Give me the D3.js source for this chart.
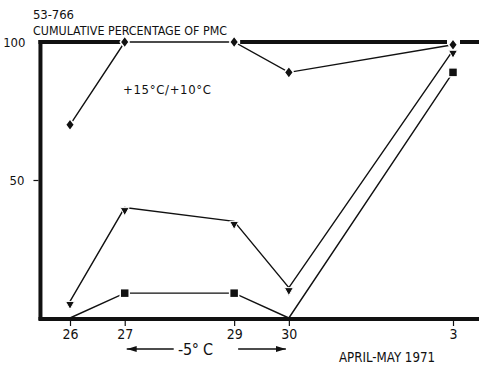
<html>
<head>
<script src="https://d3js.org/d3.v7.min.js"></script>
<style>
body { margin: 0; background: #fff; }
svg text { font-family: "Liberation Sans Narrow", "DejaVu Sans Condensed", sans-serif; font-size: 12px; fill: #111; }
.axis .domain { display: none; }
.axis line { stroke: #111; stroke-width: 1.2; }
</style>
</head>
<body>
<svg id="chart"></svg>
<script>
// day index from 26 April (0) to 3 May (7)
var days = [0, 1, 3, 4, 7];
var dayLabels = ["26", "27", "29", "30", "3"];
var warm = [70, 100, 100, 89, 99];     // diamonds, +15C/+10C
var mid = [6, 40, 35, 11, 97];         // triangles
var cold = [0, 9, 9, 0, 89];           // squares
var yTicks = [50, 100];

var W = 479, H = 369;
var svg = d3.select("#chart").attr("width", W).attr("height", H);

var x = d3.scaleLinear().domain([0, 7]).range([70, 453]);
var y = d3.scaleLinear().domain([0, 100]).range([318, 42]);
var x0 = x(-0.54);

// frame: thick left, bottom and top (100) lines
svg.append("line").attr("x1", x0).attr("x2", x0).attr("y1", y(100) - 2).attr("y2", y(0) + 2)
	.attr("stroke", "#111").attr("stroke-width", 4);
svg.append("line").attr("x1", x0 - 2).attr("x2", W).attr("y1", y(0) + 1).attr("y2", y(0) + 1)
	.attr("stroke", "#111").attr("stroke-width", 4);
[[x0 - 2, x(1) - 4], [x(3) + 6, x(7) - 6], [x(7) + 7, W]].forEach(function(s) {
	svg.append("line").attr("x1", s[0]).attr("x2", s[1]).attr("y1", y(100)).attr("y2", y(100))
		.attr("stroke", "#111").attr("stroke-width", 4);
});

// axes
var xAxis = svg.append("g").attr("class", "axis")
	.attr("transform", "translate(0," + (y(0) + 3) + ")")
	.call(d3.axisBottom(x).tickValues(days).tickSize(5).tickPadding(3)
		.tickFormat(function(d, i) { return dayLabels[i]; }));
xAxis.selectAll("text").style("font-size", "14px");

var yAxis = svg.append("g").attr("class", "axis")
	.attr("transform", "translate(" + (x0 - 2) + ",0)")
	.call(d3.axisLeft(y).tickValues(yTicks).tickSize(5).tickPadding(9));
yAxis.selectAll("text").style("font-size", "13px");
yAxis.selectAll(".tick").filter(function(d) { return d === 100; }).select("line").remove();
yAxis.selectAll(".tick").filter(function(d) { return d === 100; }).select("text").attr("x", -13);

// series lines
var line = d3.line().x(function(d) { return x(d[0]); }).y(function(d) { return y(d[1]); });
[warm, mid, cold].forEach(function(vals) {
	svg.append("path")
		.attr("d", line(days.map(function(d, i) { return [d, vals[i]]; })))
		.attr("fill", "none").attr("stroke", "#111").attr("stroke-width", 1.4);
});

// markers
svg.selectAll(".diamond").data(days).enter().append("path")
	.attr("transform", function(d, i) { return "translate(" + x(d) + "," + y(warm[i]) + ")"; })
	.attr("d", "M0,-6L4.5,0L0,6L-4.5,0Z")
	.attr("fill", "#111").attr("stroke", "#fff").attr("stroke-width", 1.5);

svg.selectAll(".tri").data(days).enter().append("path")
	.attr("transform", function(d, i) { return "translate(" + x(d) + "," + (y(mid[i]) + 4) + ")"; })
	.attr("d", "M-4.5,-4L4.5,-4L0,4Z")
	.attr("fill", "#111").attr("stroke", "#fff").attr("stroke-width", 1);

svg.selectAll(".sq").data(days.filter(function(d, i) { return cold[i] > 0; })).enter().append("rect")
	.attr("x", function(d) { return x(d) - 4.5; })
	.attr("y", function(d) { return y(cold[days.indexOf(d)]) - 4.5; })
	.attr("width", 9).attr("height", 9)
	.attr("fill", "#111").attr("stroke", "#fff").attr("stroke-width", 1.5);

// texts
svg.append("text").attr("x", 33).attr("y", 19).style("font-size", "13px")
	.attr("textLength", 41).text("53-766");
svg.append("text").attr("x", 33).attr("y", 35).style("font-size", "13px")
	.attr("textLength", 194).attr("lengthAdjust", "spacingAndGlyphs").text("CUMULATIVE PERCENTAGE OF PMC");
svg.append("text").attr("x", 123).attr("y", 94).style("font-size", "13px")
	.attr("textLength", 88).text("+15°C/+10°C");
svg.append("text").attr("x", 339).attr("y", 362).style("font-size", "14px")
	.attr("textLength", 96).attr("lengthAdjust", "spacingAndGlyphs").text("APRIL-MAY 1971");
svg.append("text").attr("x", 178).attr("y", 355).style("font-size", "16px")
	.attr("textLength", 35).text("-5° C");

// -5C arrows
svg.append("defs").append("marker").attr("id", "ah")
	.attr("viewBox", "0 0 10 6").attr("refX", 10).attr("refY", 3)
	.attr("markerWidth", 10).attr("markerHeight", 6).attr("markerUnits", "userSpaceOnUse")
	.attr("orient", "auto").append("path").attr("d", "M0,0L10,3L0,6Z").attr("fill", "#111");
svg.append("line").attr("x1", x(1) + 49).attr("x2", x(1) + 2).attr("y1", 349).attr("y2", 349)
	.attr("stroke", "#111").attr("stroke-width", 1.5).attr("marker-end", "url(#ah)");
svg.append("line").attr("x1", x(3) + 4).attr("x2", x(4) - 3).attr("y1", 349).attr("y2", 349)
	.attr("stroke", "#111").attr("stroke-width", 1.5).attr("marker-end", "url(#ah)");
</script>
</body>
</html>
